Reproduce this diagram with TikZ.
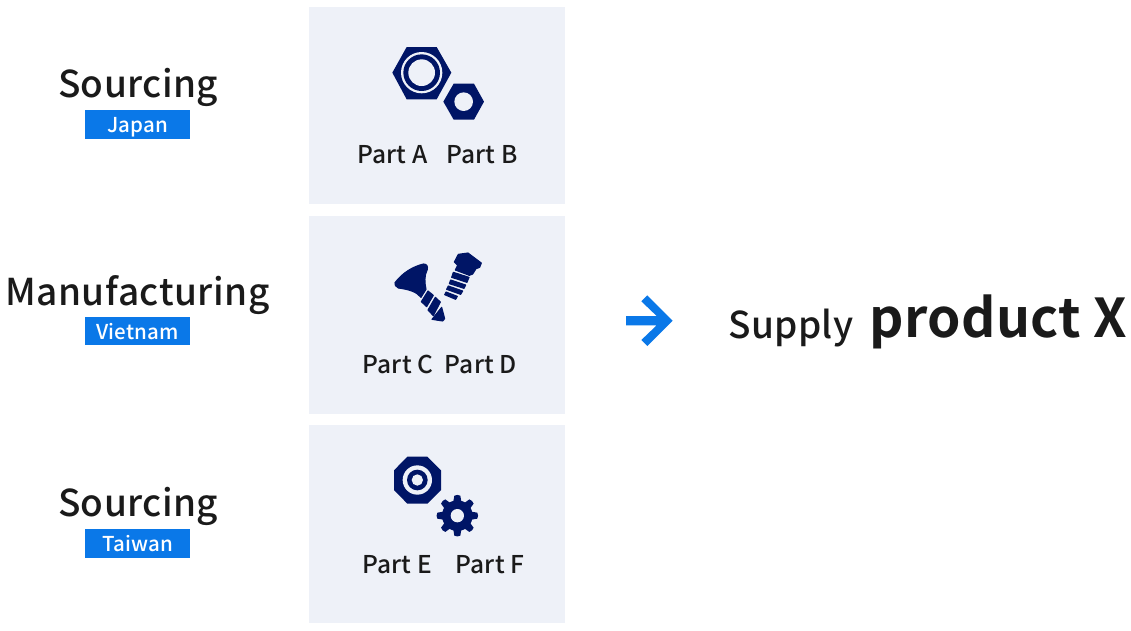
\documentclass[tikz,border=0pt]{standalone}
\usepackage{fontspec}
\setmainfont[LetterSpace=1]{Noto Sans CJK JP Medium}
\newfontfamily\jpbold[LetterSpace=0.8]{Noto Sans CJK JP Bold}
\definecolor{panel}{HTML}{EEF1F8}
\definecolor{navy}{HTML}{001566}
\definecolor{tagblue}{HTML}{0A78E8}
\definecolor{ink}{HTML}{1A1A1A}
\tikzset{
  panelbox/.style={fill=panel,draw=none,anchor=north west,inner sep=0,minimum width=256pt},
  head/.style={text=ink,inner sep=0,anchor=base,font=\fontsize{37}{37}\selectfont},
  headwide/.style={head,font=\addfontfeature{LetterSpace=1.5}\fontsize{37}{37}\selectfont},
  tag/.style={fill=tagblue,text=white,inner sep=0,minimum width=105pt,minimum height=28.5pt},
  tagtext/.style={text=white,inner sep=0,anchor=base,font=\fontsize{20.5}{20.5}\selectfont},
  part/.style={text=ink,inner sep=0,anchor=base,font=\fontsize{24.5}{24.5}\selectfont},
  icon/.style={fill=navy,draw=none},
  soft/.style={fill=navy,draw=navy,line width=1.1pt,line join=round},
  hole/.style={fill=panel,draw=none},
  zoomed/.style={x=0.3333pt,y=-0.3333pt}
}
\begin{document}
\begin{tikzpicture}[x=1pt,y=-1pt]
\useasboundingbox (0,0) rectangle (1131,630);
\fill[white] (0,0) rectangle (1131,630);
% panels
\node[panelbox,minimum height=197pt] (p1) at (309,7) {};
\node[panelbox,minimum height=198pt] (p2) at (309,216) {};
\node[panelbox,minimum height=198pt] (p3) at (309,425) {};
% left headings
\node[head] (h1) at (138,97) {Sourcing};
\node[tag] (t1) at (137.5,124.5) {};
\node[tagtext] (l1) at (138,132) {Japan};
\node[headwide] (h2) at (137.5,305) {Manufacturing};
\node[tag] (t2) at (137.5,331) {};
\node[tagtext] (l2) at (137.5,339) {Vietnam};
\node[head] (h3) at (138,516) {Sourcing};
\node[tag] (t3) at (137.5,543.5) {};
\node[tagtext] (l3) at (137.5,551) {Taiwan};
% part labels
\node[part] (a) at (392.5,163) {Part A};
\node[part] (b) at (482,163) {Part B};
\node[part] (c) at (398,373) {Part C};
\node[part] (d) at (481,373) {Part D};
\node[part] (e) at (397,573) {Part E};
\node[part] (f) at (490,573) {Part F};
% icons A, B
\begin{scope}[shift={(380,35)},zoomed]
\fill[icon] (37,113)--(80,36)--(170,36)--(214,113)--(170,193)--(80,193)--cycle;
\fill[hole] (125,113) circle (62);
\fill[icon] (125,113) circle (55);
\fill[hole] (125,113) circle (40);
\fill[icon] (190,200)--(221,146)--(282,146)--(312,200)--(282,254)--(221,254)--cycle;
\fill[hole] (251,200) circle (28);
\end{scope}
% icon C
\begin{scope}[shift={(390,260)},zoomed]
\filldraw[soft] (15,68) .. controls (38,38) and (68,20) .. (100,12)
  .. controls (110,12) and (114,18) .. (112,28)
  .. controls (102,48) and (104,68) .. (108,88)
  -- (93,112) .. controls (80,95) and (55,88) .. (25,84)
  .. controls (17,80) and (13,74) .. (15,68) -- cycle;
\filldraw[soft] (114,93)--(130,106)--(110,140)--(94,125)--cycle;
\filldraw[soft] (136,112)--(151,126)--(130,167)--(114,150)--cycle;
\filldraw[soft] (155,142)--(164,176)--(158,183)--(126,178)--cycle;
\end{scope}
% icon D
\begin{scope}[shift={(440,248)},zoomed]
\filldraw[soft] (43,42)--(55,19)--(84,15)--(124,45)--(119,58)--(108,62)--(98,78)--(88,82)--(46,66)--(53,52)--cycle;
\filldraw[soft] (40,73)--(87,88)--(81,103)--(35,88)--cycle;
\filldraw[soft] (32,96)--(77,111)--(72,121)--(28,107)--cycle;
\filldraw[soft] (25,114)--(68,129)--(62,139)--(20,124)--cycle;
\filldraw[soft] (18,132)--(52,145)--(47,154)--(14,140)--cycle;
\end{scope}
% icons E, F
\begin{scope}[shift={(380,445)},zoomed]
\fill[icon] (82,35)--(142,35)--(183,76)--(183,135)--(142,176)--(82,176)--(42,135)--(42,76)--cycle;
\fill[hole] (112,105) circle (44);
\fill[icon] (112,105) circle (31);
\fill[hole] (112,105) circle (17);
\fill[icon] (232,212) circle (46);
\foreach \ang in {0,45,...,315}{
  \fill[icon,rotate around={\ang:(232,212)}] (220,170)--(223,152) .. controls (228,149) and (236,149) .. (241,152) --(244,170)--cycle;
}
\fill[hole] (232,212) circle (20);
\end{scope}
% arrow
\begin{scope}[shift={(610,280)},zoomed]
\fill[tagblue] (48,108)--(140,108)--(94,64)--(112,46)--(188,122)--(112,198)--(94,180)--(140,136)--(48,136)--cycle;
\end{scope}
% result
\node[text=ink,inner sep=0,anchor=base west,font=\fontsize{37}{37}\selectfont] (s) at (728,338) {Supply};
\node[text=ink,inner sep=0,anchor=base west,font=\jpbold\fontsize{53.5}{53.5}\selectfont] (x) at (869,337) {product X};
\end{tikzpicture}
\end{document}
